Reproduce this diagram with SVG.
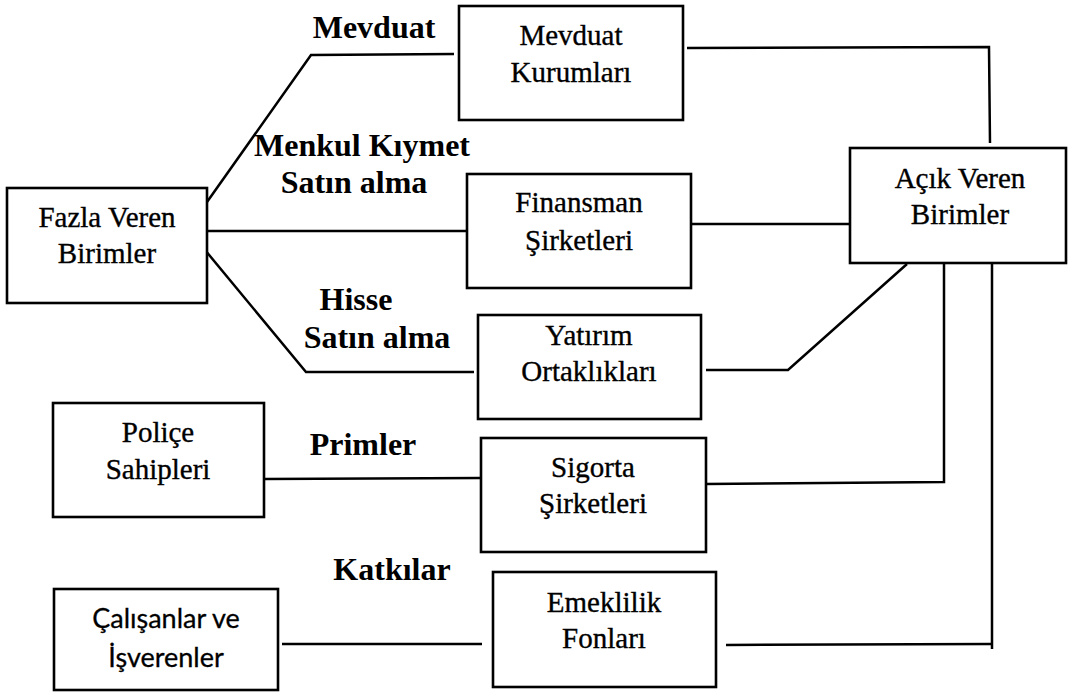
<svg xmlns="http://www.w3.org/2000/svg" width="1073" height="693" viewBox="0 0 1073 693">
<style>
.box{fill:#fff;stroke:#000;stroke-width:2.6}
.ln{fill:none;stroke:#000;stroke-width:2.5}
.t{font-family:'Liberation Serif','Times New Roman',serif;font-size:29px;fill:#000;stroke:#000;stroke-width:0.35;text-anchor:middle}
.s{font-family:Lato,'Liberation Sans',sans-serif;font-size:27px;fill:#000;stroke:#000;stroke-width:0.3;text-anchor:middle}
.lb{font-family:'Liberation Serif','Times New Roman',serif;font-size:32px;font-weight:bold;fill:#000;text-anchor:middle}
</style>
<rect width="1073" height="693" fill="#fff"/>
<g id="connectors">
<polyline class="ln" points="207,202 311,55 454,54"/>
<line class="ln" x1="207" y1="231" x2="467" y2="231"/>
<polyline class="ln" points="205,250 306,372 474,372"/>
<polyline class="ln" points="687,48 989,47 990,143"/>
<line class="ln" x1="691" y1="224" x2="849" y2="224"/>
<polyline class="ln" points="706,370 788,370 907,264"/>
<polyline class="ln" points="706,484 944,482 944,261"/>
<polyline class="ln" points="726,645 992,644"/>
<line class="ln" x1="992" y1="263" x2="992" y2="649"/>
<line class="ln" x1="264" y1="479" x2="481" y2="478"/>
<line class="ln" x1="282" y1="644" x2="482" y2="644"/>
</g>
<g id="labels">
<text class="lb" x="374" y="38">Mevduat</text>
<text class="lb" x="362" y="156">Menkul Kıymet</text>
<text class="lb" x="354" y="193">Satın alma</text>
<text class="lb" x="356" y="310">Hisse</text>
<text class="lb" x="377" y="348">Satın alma</text>
<text class="lb" x="363" y="455">Primler</text>
<text class="lb" x="392" y="580">Katkılar</text>
</g>
<g id="fazla">
<rect class="box" x="7" y="188" width="200" height="115"/>
<text class="t" x="107" y="227">Fazla Veren</text>
<text class="t" x="107" y="263">Birimler</text>
</g>
<g id="mevduat">
<rect class="box" x="459" y="6" width="224" height="114"/>
<text class="t" x="571" y="45">Mevduat</text>
<text class="t" x="571" y="82">Kurumları</text>
</g>
<g id="finansman">
<rect class="box" x="467" y="174" width="224" height="114"/>
<text class="t" x="579" y="212">Finansman</text>
<text class="t" x="579" y="250">Şirketleri</text>
</g>
<g id="yatirim">
<rect class="box" x="478" y="315" width="223" height="104"/>
<text class="t" x="589" y="345">Yatırım</text>
<text class="t" x="589" y="381">Ortaklıkları</text>
</g>
<g id="acik">
<rect class="box" x="850" y="148" width="216" height="115"/>
<text class="t" x="960" y="188">Açık Veren</text>
<text class="t" x="960" y="224">Birimler</text>
</g>
<g id="police">
<rect class="box" x="53" y="403" width="211" height="114"/>
<text class="t" x="158" y="442">Poliçe</text>
<text class="t" x="158" y="479">Sahipleri</text>
</g>
<g id="sigorta">
<rect class="box" x="481" y="438" width="225" height="114"/>
<text class="t" x="593" y="477">Sigorta</text>
<text class="t" x="593" y="513">Şirketleri</text>
</g>
<g id="emeklilik">
<rect class="box" x="493" y="572" width="223" height="115"/>
<text class="t" x="604" y="612">Emeklilik</text>
<text class="t" x="604" y="648">Fonları</text>
</g>
<g id="calisanlar">
<rect class="box" x="54" y="589" width="224" height="101"/>
<text class="s" x="166" y="628">Çalışanlar ve</text>
<text class="s" x="166" y="667">İşverenler</text>
</g>
</svg>
